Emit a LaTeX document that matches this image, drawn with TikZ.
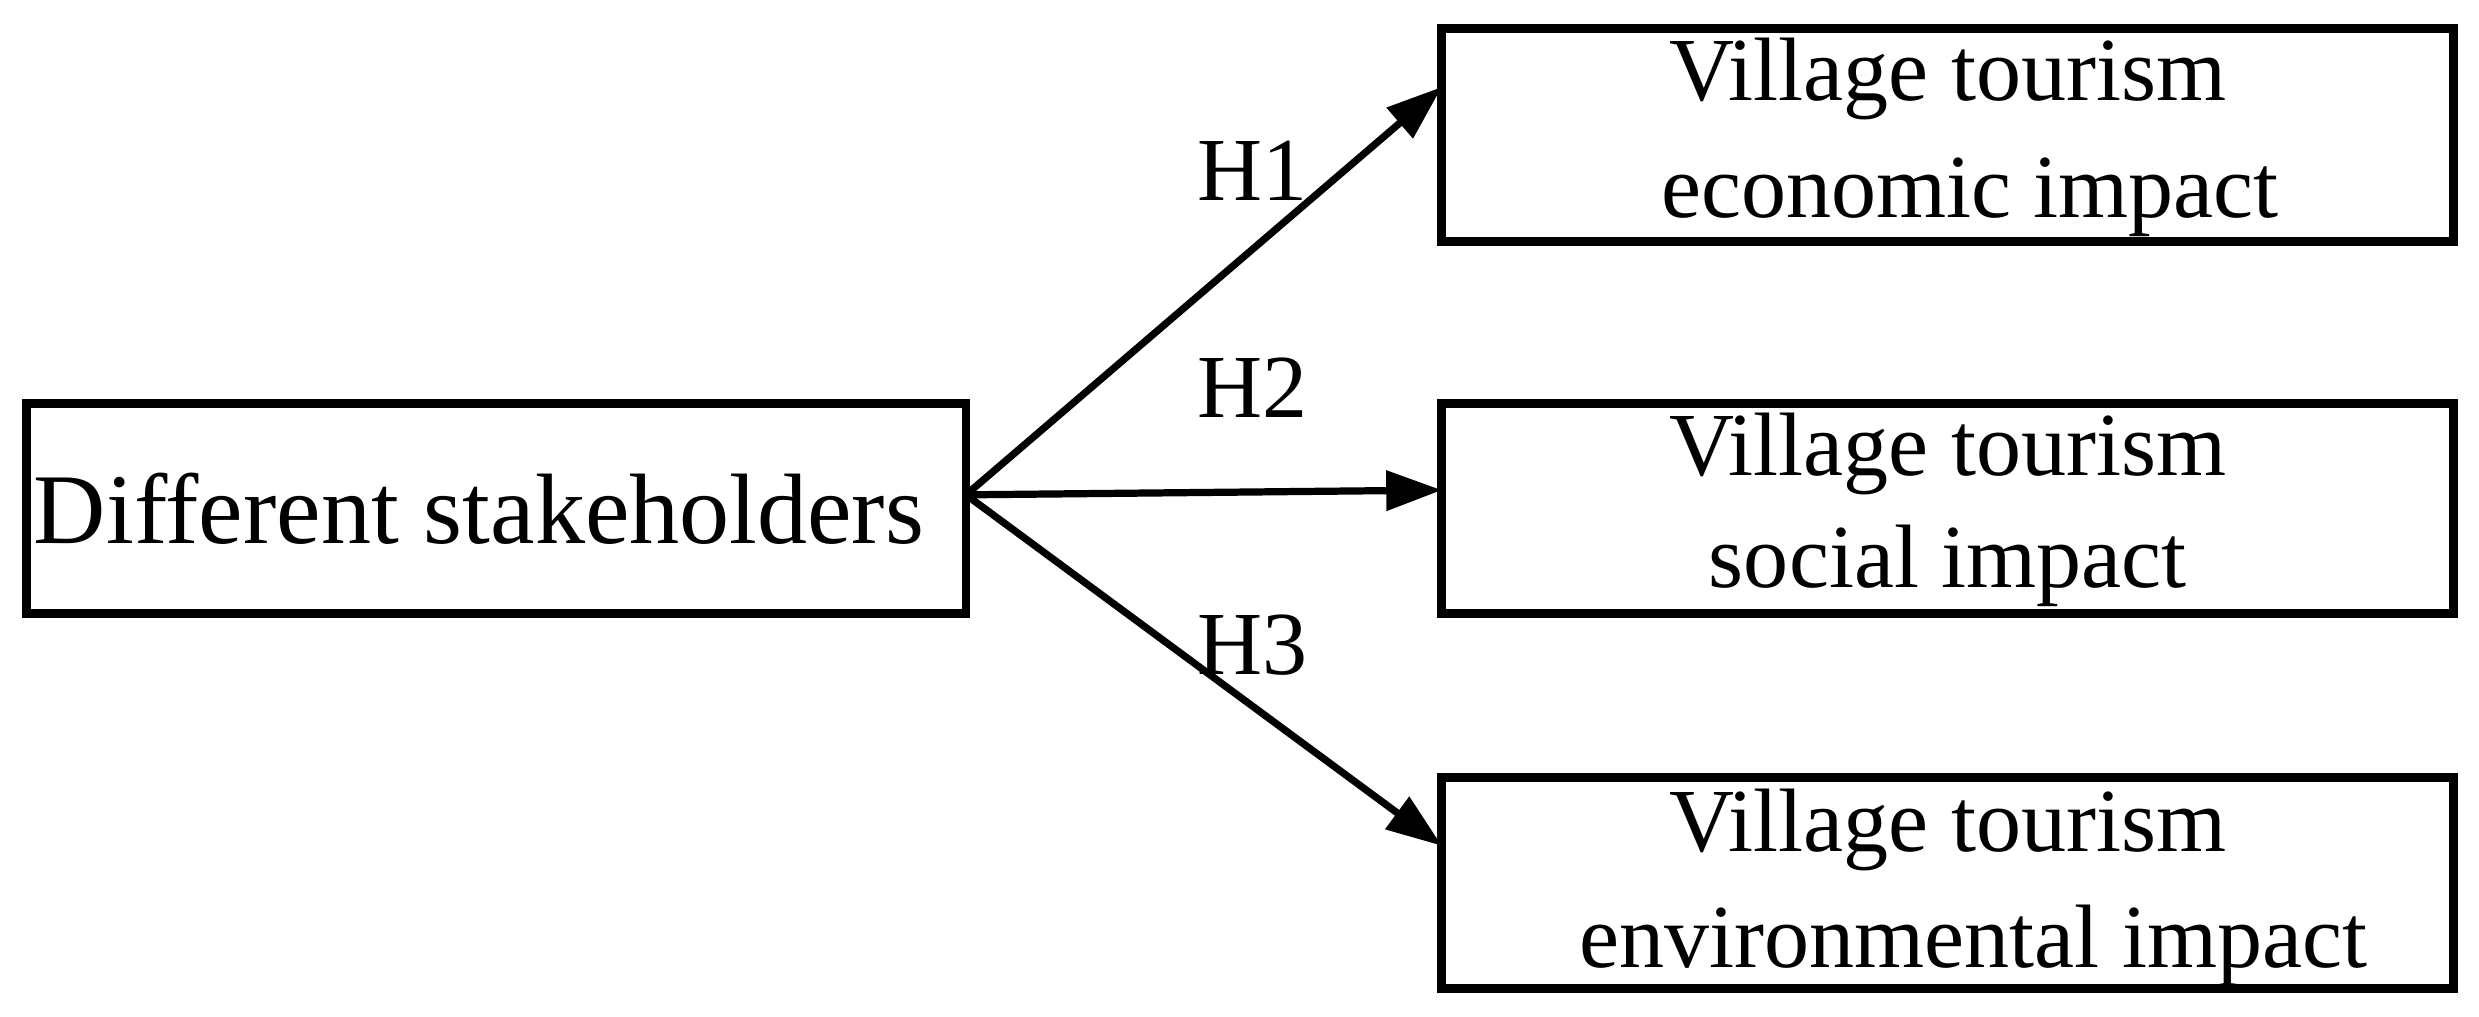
\documentclass[tikz,border=0pt]{standalone}
\usepackage{fontspec}
\setmainfont{Liberation Serif}
\usetikzlibrary{arrows.meta}
\begin{document}
\begin{tikzpicture}[x=0.01cm,y=-0.01cm,
  box/.style={draw,line width=1.6pt,inner sep=0pt},
  txt/.style={font=\fontsize{16.2}{20}\selectfont,align=center},
  arr/.style={line width=1.3pt,-{Triangle[length=10pt,width=7pt]}}]
\useasboundingbox (0,0) rectangle (1568,643);
\draw[box] (17,255) rectangle (611,388);
\node[txt,font=\fontsize{18}{20}\selectfont] (L) at (303,322) {Different stakeholders};
\coordinate (s) at (611,313);
\draw[box] (912,18) rectangle (1552,153);
\draw[box] (912,255) rectangle (1552,388);
\draw[box] (912,492) rectangle (1552,625);
\node[txt] (a1) at (1232,50) {Village tourism};
\node[txt] (b1) at (1246,125) {economic impact};
\node[txt] (a2) at (1232,287) {Village tourism};
\node[txt] (b2) at (1232,358) {social impact};
\node[txt] (a3) at (1232,525) {Village tourism};
\node[txt] (b3) at (1248,598) {environmental impact};
\coordinate (e1) at (912,55);
\coordinate (e2) at (912,310);
\coordinate (e3) at (912,535);
\draw[arr] (s) -- (e1);
\draw[arr] (s) -- (e2);
\draw[arr] (s) -- (e3);
\node[txt] (h1) at (792,108) {H1};
\node[txt] (h2) at (792,245) {H2};
\node[txt] (h3) at (792,408) {H3};
\end{tikzpicture}
\end{document}
